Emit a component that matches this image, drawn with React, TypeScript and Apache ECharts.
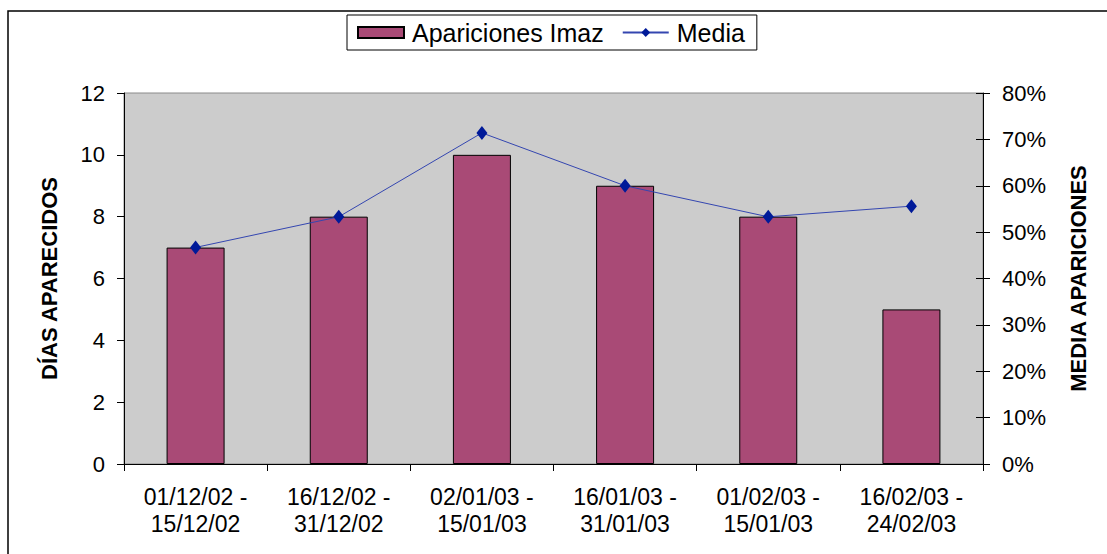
import React, { useEffect, useRef } from "react";
import * as echarts from "echarts";

const categories = [
  "01/12/02 -\n15/12/02",
  "16/12/02 -\n31/12/02",
  "02/01/03 -\n15/01/03",
  "16/01/03 -\n31/01/03",
  "01/02/03 -\n15/01/03",
  "16/02/03 -\n24/02/03",
];
const apariciones = [7, 8, 10, 9, 8, 5];
const media = [0.467, 0.533, 0.714, 0.6, 0.533, 0.556];

const FONT = "'Liberation Sans', Arial, sans-serif";

export default function App() {
  const ref = useRef<HTMLDivElement>(null);
  useEffect(() => {
    if (!ref.current) return;
    const chart = echarts.init(ref.current, null, { renderer: "svg" });
    chart.setOption({
      animation: false,
      backgroundColor: "#ffffff",
      textStyle: { fontFamily: FONT },
      graphic: [
        {
          type: "rect",
          shape: { x: 8, y: 11, width: 1120, height: 580 },
          style: { fill: "none", stroke: "#000", lineWidth: 1.5 },
          silent: true,
          z: -1,
        },
      ],
      legend: {
        left: 347,
        top: 15,
        padding: [5, 12, 5, 10],
        itemGap: 18,
        itemWidth: 46,
        itemHeight: 11,
        borderColor: "#000",
        borderWidth: 1,
        backgroundColor: "#fff",
        textStyle: { fontFamily: FONT, fontSize: 25, color: "#000", padding: [0, 0, 0, 3] },
        data: [
          { name: "Apariciones Imaz", icon: "rect" },
          { name: "Media" },
        ],
      },
      grid: {
        left: 124,
        right: 124,
        top: 93,
        bottom: 90,
        show: true,
        backgroundColor: "#cccccc",
        borderColor: "#8a8a8a",
        borderWidth: 1,
      },
      xAxis: {
        type: "category",
        data: categories,
        axisLine: { lineStyle: { color: "#000", width: 1 } },
        axisTick: { show: true, length: 7, lineStyle: { color: "#000" } },
        axisLabel: {
          fontFamily: FONT,
          fontSize: 23,
          color: "#000",
          lineHeight: 27,
          margin: 19,
          interval: 0,
        },
      },
      yAxis: [
        {
          type: "value",
          min: 0,
          max: 12,
          interval: 2,
          name: "DÍAS APARECIDOS",
          nameLocation: "middle",
          nameRotate: 90,
          nameGap: 64,
          nameTextStyle: { fontFamily: FONT, fontSize: 22, fontWeight: "bold", color: "#000" },
          axisLine: { show: true, lineStyle: { color: "#000" } },
          axisTick: { show: true, length: 7, lineStyle: { color: "#000" } },
          axisLabel: { fontFamily: FONT, fontSize: 22, color: "#000", margin: 19 },
          splitLine: { show: false },
        },
        {
          type: "value",
          min: 0,
          max: 0.8,
          interval: 0.1,
          position: "right",
          name: "MEDIA APARICIONES",
          nameLocation: "middle",
          nameRotate: 90,
          nameGap: 84,
          nameTextStyle: { fontFamily: FONT, fontSize: 22, fontWeight: "bold", color: "#000" },
          axisLine: { show: true, lineStyle: { color: "#000" } },
          axisTick: { show: true, length: 7, lineStyle: { color: "#000" } },
          axisLabel: {
            fontFamily: FONT,
            fontSize: 22,
            color: "#000",
            margin: 19,
            formatter: (v: number) => Math.round(v * 100) + "%",
          },
          splitLine: { show: false },
        },
        {
          type: "value",
          min: 0,
          max: 0.8,
          interval: 0.1,
          position: "right",
          axisLine: { show: false },
          axisTick: { show: true, inside: true, length: 7, lineStyle: { color: "#000" } },
          axisLabel: { show: false },
          splitLine: { show: false },
        },
      ],
      series: [
        {
          name: "Apariciones Imaz",
          type: "bar",
          data: apariciones,
          barWidth: 58,
          itemStyle: { color: "#a94a76", borderColor: "#000", borderWidth: 1 },
        },
        {
          name: "Media",
          type: "line",
          yAxisIndex: 1,
          data: media,
          symbol: "diamond",
          symbolSize: [11, 14],
          lineStyle: { color: "#3446b0", width: 1 },
          itemStyle: { color: "#001a99" },
        },
      ],
    });
    return () => chart.dispose();
  }, []);
  return (
    <div
      ref={ref}
      style={{ position: "fixed", left: 0, top: 0, width: 1107, height: 554 }}
    />
  );
}
